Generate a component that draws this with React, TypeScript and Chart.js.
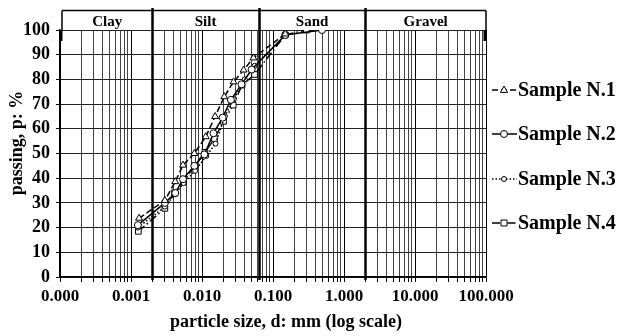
import React, { useEffect, useRef } from "react";
import { Chart, registerables } from "chart.js";

Chart.register(...registerables);

const SERIES_NAMES = ["Sample N.1", "Sample N.2", "Sample N.3", "Sample N.4"];

const S1_D = [0.0013, 0.003, 0.0042, 0.0054, 0.0078, 0.0113, 0.0153, 0.0206, 0.0278, 0.0386, 0.053, 0.149];
const S1_P = [23.8, 31, 38.6, 45.3, 50, 56.8, 65, 73, 79, 83.8, 88.7, 98.4];

const S2_D = [0.00125, 0.003, 0.0042, 0.0054, 0.0078, 0.0108, 0.0145, 0.0195, 0.0255, 0.036, 0.05, 0.149, 0.49];
const S2_P = [21, 30, 34, 39.6, 45, 49.6, 58.2, 64.5, 71.7, 78, 84, 98, 100];

const S3_D = [0.00125, 0.003, 0.0042, 0.0055, 0.008, 0.0115, 0.0155, 0.021, 0.028, 0.04, 0.055, 0.149];
const S3_P = [20, 28.5, 33.5, 38, 43, 49, 54, 65, 72, 80, 85.5, 97.8];

const S4_D = [0.00127, 0.003, 0.0041, 0.0055, 0.0078, 0.011, 0.015, 0.0201, 0.0275, 0.0366, 0.055, 0.149, 0.295];
const S4_P = [18.5, 27.8, 34.1, 38.5, 45, 50.5, 56, 63, 69.6, 77.7, 82, 98, 100];

const DECADES = [-4, -3, -2, -1, 0, 1, 2];
const MULTS = [1, 2, 3, 4, 5, 6, 7, 8, 9];

const SOIL_LABELS = ["Clay", "Silt", "Sand", "Gravel"];
const SOIL_BOUNDS = [0.002, 0.063, 2];

const X_MIN = 0.0001;
const X_MAX = 100;
const Y_TICK_STEP = 10;

const X_TITLE = "particle size, d: mm (log scale)";
const Y_TITLE = "passing, p: %";

const FONT = "'Liberation Serif', 'Times New Roman', serif";

const isDecade = (v: number) => {
  const l = Math.log10(v);
  return Math.abs(l - Math.round(l)) < 1e-9;
};

const X_TICKS: number[] = [];
DECADES.forEach((e) => {
  MULTS.forEach((m) => {
    const v = Number((m * Math.pow(10, e)).toPrecision(6));
    if (v >= X_MIN && v <= X_MAX) X_TICKS.push(v);
  });
});

const STYLES = [
  { dash: [6, 3], point: "triangle", radius: 4 },
  { dash: [], point: "circle", radius: 3.5 },
  { dash: [1.5, 2], point: "circle", radius: 2.5 },
  { dash: [8, 3, 1.5, 3], point: "rect", radius: 4 },
];

const makeData = (d: number[], p: number[]) => d.map((x, i) => ({ x, y: p[i] }));

const overlayPlugin = {
  id: "overlay",
  beforeDatasetsDraw(chart: any) {
    const { ctx, chartArea, scales } = chart;
    const x = scales.x;
    ctx.save();
    ctx.strokeStyle = "#000";
    ctx.lineWidth = 2.5;
    SOIL_BOUNDS.forEach((b) => {
      const px = Math.round(x.getPixelForValue(b)) + 0.5;
      ctx.beginPath();
      ctx.moveTo(px, 8);
      ctx.lineTo(px, chartArea.bottom + 3);
      ctx.stroke();
    });
    ctx.restore();
  },
  afterDraw(chart: any) {
    const { ctx, chartArea, scales } = chart;
    const x = scales.x;
    const top = 10.5;
    ctx.save();
    ctx.strokeStyle = "#000";
    ctx.lineWidth = 1.5;
    ctx.beginPath();
    ctx.moveTo(chartArea.left + 2, top);
    ctx.lineTo(chartArea.right, top);
    ctx.moveTo(chartArea.left + 2, top);
    ctx.lineTo(chartArea.left + 2, chartArea.top);
    ctx.moveTo(chartArea.right, top);
    ctx.lineTo(chartArea.right, chartArea.top);
    ctx.stroke();
    ctx.lineWidth = 3;
    ctx.beginPath();
    ctx.moveTo(chartArea.left + 1, chartArea.top);
    ctx.lineTo(chartArea.left + 1, chartArea.top + 11);
    ctx.moveTo(chartArea.right - 1, chartArea.top);
    ctx.lineTo(chartArea.right - 1, chartArea.top + 11);
    ctx.stroke();

    const edges = [chartArea.left + 2, ...SOIL_BOUNDS.map((b) => x.getPixelForValue(b)), chartArea.right];
    ctx.fillStyle = "#000";
    ctx.font = `bold 15px ${FONT}`;
    ctx.textAlign = "center";
    ctx.textBaseline = "alphabetic";
    SOIL_LABELS.forEach((lab, i) => {
      ctx.fillText(lab, (edges[i] + edges[i + 1]) / 2, 26);
    });

    ctx.font = `bold 18px ${FONT}`;
    ctx.textAlign = "center";
    ctx.textBaseline = "middle";
    ctx.fillText(X_TITLE, 286, 322);
    ctx.save();
    ctx.translate(17, 143);
    ctx.rotate(-Math.PI / 2);
    ctx.fillText(Y_TITLE, 0, 0);
    ctx.restore();

    const rows = [90, 134, 179, 223];
    chart.data.datasets.forEach((ds: any, i: number) => {
      const y = rows[i];
      const st = STYLES[i];
      ctx.strokeStyle = "#000";
      ctx.lineWidth = 1.5;
      ctx.setLineDash(st.dash);
      ctx.beginPath();
      ctx.moveTo(492, y);
      ctx.lineTo(517, y);
      ctx.stroke();
      ctx.setLineDash([]);
      ctx.lineWidth = 1;
      ctx.fillStyle = "#fff";
      const cx = 504;
      const r = st.radius;
      ctx.beginPath();
      if (st.point === "triangle") {
        ctx.moveTo(cx, y - r);
        ctx.lineTo(cx + r * 0.9, y + r * 0.6);
        ctx.lineTo(cx - r * 0.9, y + r * 0.6);
        ctx.closePath();
      } else if (st.point === "rect") {
        const s = r * 0.75;
        ctx.rect(cx - s, y - s, 2 * s, 2 * s);
      } else {
        ctx.arc(cx, y, r, 0, Math.PI * 2);
      }
      ctx.fill();
      ctx.stroke();
      ctx.fillStyle = "#000";
      ctx.font = `bold 20px ${FONT}`;
      ctx.textAlign = "left";
      ctx.textBaseline = "middle";
      ctx.fillText(ds.label, 518, y + 1);
    });
    ctx.restore();
  },
};

export default function App() {
  const ref = useRef<HTMLCanvasElement | null>(null);

  useEffect(() => {
    if (!ref.current) return;
    const allD = [S1_D, S2_D, S3_D, S4_D];
    const allP = [S1_P, S2_P, S3_P, S4_P];
    const chart = new Chart(ref.current, {
      type: "line",
      data: {
        datasets: SERIES_NAMES.map((name, i) => ({
          label: name,
          data: makeData(allD[i], allP[i]),
          borderColor: "#000",
          borderWidth: 1.5,
          borderDash: STYLES[i].dash,
          pointStyle: STYLES[i].point as any,
          pointRadius: STYLES[i].radius,
          pointBackgroundColor: "#fff",
          pointBorderColor: "#000",
          pointBorderWidth: 1,
          fill: false,
          tension: 0,
        })),
      },
      options: {
        responsive: false,
        animation: false,
        devicePixelRatio: 1,
        layout: { padding: { top: 30, right: 131, left: 0, bottom: 0 } },
        plugins: {
          legend: { display: false },
          tooltip: { enabled: false },
          title: { display: false },
        },
        scales: {
          x: {
            type: "logarithmic",
            min: X_MIN,
            max: X_MAX,
            afterBuildTicks: (scale: any) => {
              scale.ticks = X_TICKS.map((v) => ({ value: v }));
            },
            afterFit: (scale: any) => {
              scale.height = 59;
            },
            grid: {
              color: (c: any) => (c.tick && isDecade(c.tick.value) ? "#000" : "#444"),
              lineWidth: 1,
              tickLength: 5,
              tickColor: "#000",
            },
            border: { display: true, color: "#000", width: 1.5 },
            ticks: {
              autoSkip: false,
              maxRotation: 0,
              minRotation: 0,
              padding: 4,
              color: "#000",
              font: { family: FONT, size: 17, weight: "bold" },
              callback: (v: any) => (isDecade(Number(v)) ? Number(v).toFixed(3) : ""),
            },
          },
          y: {
            min: 0,
            max: 100,
            afterFit: (scale: any) => {
              scale.width = 60;
            },
            grid: { color: "#222", lineWidth: 1, tickLength: 4, tickColor: "#000" },
            border: { display: true, color: "#000", width: 1.5 },
            ticks: {
              stepSize: Y_TICK_STEP,
              padding: 6,
              color: "#000",
              font: { family: FONT, size: 18, weight: "bold" },
            },
          },
        },
      },
      plugins: [overlayPlugin],
    });
    return () => chart.destroy();
  }, []);

  return (
    <div style={{ position: "absolute", left: 0, top: 0, width: 617, height: 336, background: "#fff" }}>
      <canvas ref={ref} width={617} height={336} style={{ width: 617, height: 336, display: "block" }} />
    </div>
  );
}
